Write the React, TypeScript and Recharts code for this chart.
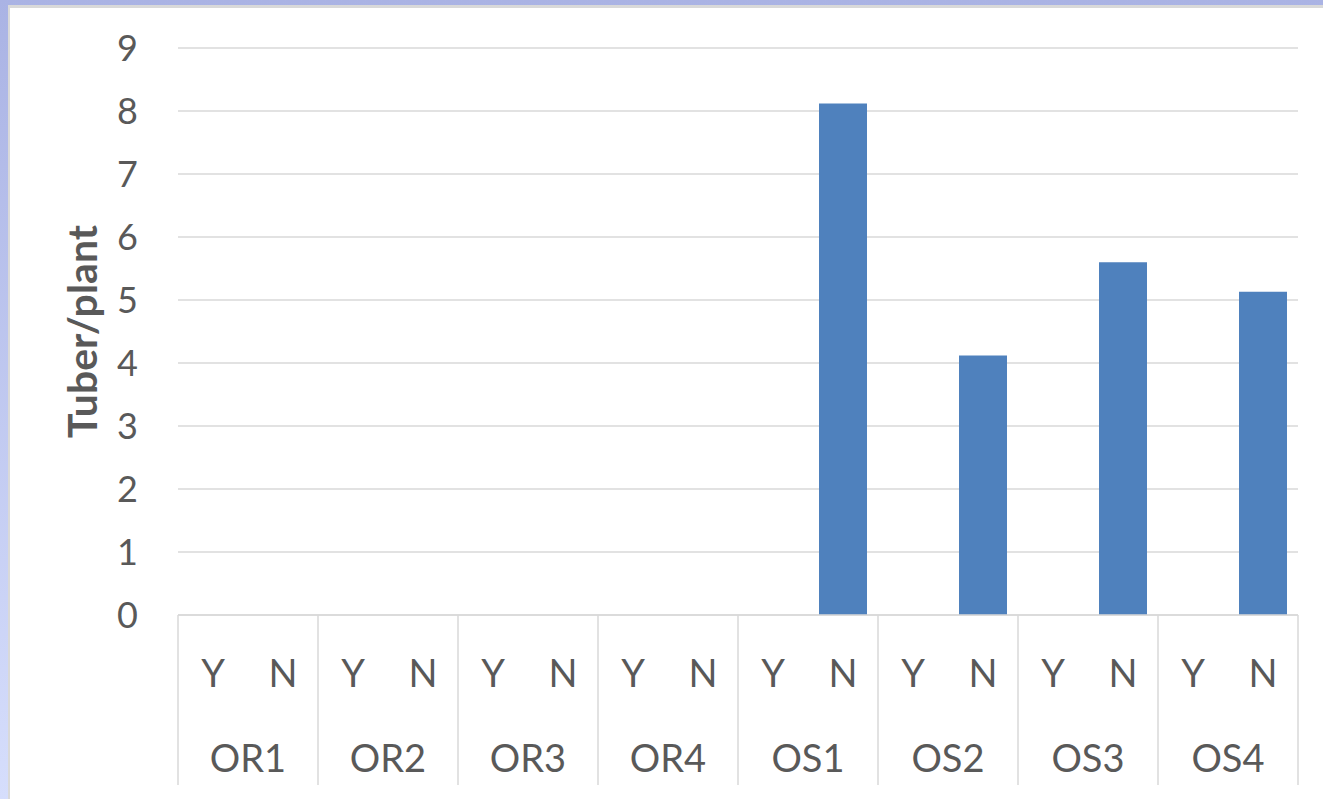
import { Bar, BarChart, CartesianGrid, XAxis, YAxis } from "recharts"

const groups = ["OR1", "OR2", "OR3", "OR4", "OS1", "OS2", "OS3", "OS4"]
const flags = ["Y", "N"]
// tuber per plant, Y then N for each group
const yValues = [0, 0, 0, 0, 0, 0, 0, 0]
const nValues = [0, 0, 0, 0, 8.12, 4.12, 5.6, 5.13]
const yTicks = [0, 1, 2, 3, 4, 5, 6, 7, 8, 9]

const data = groups.flatMap((g, i) => [
  { id: `${g}|${flags[0]}`, group: g, flag: flags[0], value: yValues[i] },
  { id: `${g}|${flags[1]}`, group: g, flag: flags[1], value: nValues[i] },
])

const W = 1323
const H = 799
const margin = { top: 48, right: 25, left: 108, bottom: 0 }
const yAxisWidth = 70
const plotW = W - margin.left - margin.right - yAxisWidth
const band = plotW / data.length

const textColor = "#595959"
const gridColor = "#d9d9d9"
const font = "Lato, 'Open Sans', sans-serif"

function CategoryTick(props: any) {
  const { x, y, index } = props
  const d = data[index]
  if (!d) return null
  const last = index === data.length - 1
  return (
    <g>
      <text x={x} y={y + 72} textAnchor="middle" fill={textColor} fontSize={38} fontFamily={font}>
        {d.flag}
      </text>
      {index % 2 === 0 && (
        <>
          <line x1={x - band / 2} x2={x - band / 2} y1={y} y2={y + 170} stroke={gridColor} strokeWidth={1.5} />
          <text x={x + band / 2} y={y + 157} textAnchor="middle" fill={textColor} fontSize={38} fontFamily={font}>
            {d.group}
          </text>
        </>
      )}
      {last && (
        <line x1={x + band / 2} x2={x + band / 2} y1={y} y2={y + 170} stroke={gridColor} strokeWidth={1.5} />
      )}
    </g>
  )
}

function AxisTitle(props: any) {
  const { viewBox } = props
  const cx = viewBox.x - 11
  const cy = viewBox.y + viewBox.height / 2
  return (
    <text
      x={cx}
      y={cy}
      transform={`rotate(-90, ${cx}, ${cy})`}
      textAnchor="middle"
      fill={textColor}
      fontSize={41}
      fontWeight="bold"
      fontFamily={font}
    >
      Tuber/plant
    </text>
  )
}

export default function App() {
  return (
    <div
      style={{
        position: "absolute",
        left: 0,
        top: 0,
        width: W,
        height: H,
        background: "linear-gradient(to bottom, #aab3e4, #d6defc)",
        overflow: "hidden",
      }}
    >
      <div
        style={{
          position: "absolute",
          left: 8,
          top: 5,
          right: 0,
          bottom: 0,
          background: "#fff",
          borderLeft: `2px solid ${gridColor}`,
          borderTop: `3px solid ${gridColor}`,
        }}
      />
      <div style={{ position: "absolute", left: 0, top: 0 }}>
        <BarChart width={W} height={H} data={data} margin={margin} barCategoryGap={11}>
          <CartesianGrid vertical={false} stroke={gridColor} strokeWidth={1.5} />
          <XAxis
            dataKey="id"
            interval={0}
            height={H - margin.top - 567}
            tickLine={false}
            tickSize={0}
            tickMargin={0}
            axisLine={{ stroke: gridColor, strokeWidth: 1.5 }}
            tick={<CategoryTick />}
          />
          <YAxis
            width={yAxisWidth}
            domain={[0, 9]}
            ticks={yTicks}
            interval={0}
            axisLine={false}
            tickLine={false}
            tickSize={0}
            tickMargin={40}
            tick={{ fill: textColor, fontSize: 36, fontFamily: font }}
            label={<AxisTitle />}
          />
          <Bar dataKey="value" fill="#4f81bd" isAnimationActive={false} />
        </BarChart>
      </div>
    </div>
  )
}
